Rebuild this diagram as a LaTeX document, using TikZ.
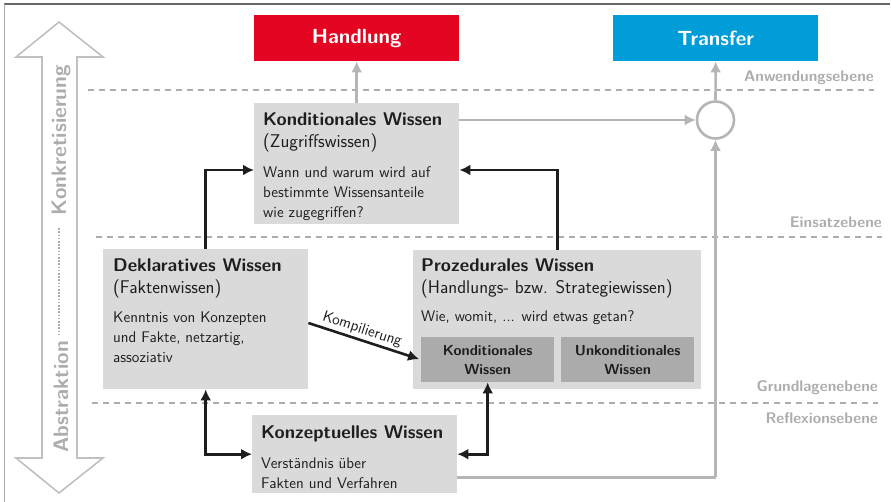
\documentclass[tikz,border=0pt]{standalone}
\usepackage{fontspec}
\renewcommand{\familydefault}{\sfdefault}
\usetikzlibrary{arrows.meta,calc}
\definecolor{boxgray}{HTML}{DADADA}
\definecolor{innergray}{HTML}{ABABAB}
\definecolor{linegray}{HTML}{B5B5B5}
\definecolor{labelgray}{HTML}{ADADAD}
\definecolor{hred}{HTML}{E30522}
\definecolor{tblue}{HTML}{009DD9}
\definecolor{txt}{HTML}{1E1E1E}
\definecolor{framedark}{HTML}{666666}
\definecolor{framelight}{HTML}{AAAAAA}
\newcommand\bodyfont{\fontsize{15.4}{20}\selectfont}
\newcommand\headfont{\fontsize{18.4}{22}\selectfont}
\newcommand\mylines[1]{\begin{tabular}[t]{@{}l@{}}#1\end{tabular}}
\tikzset{
  box/.style={fill=boxgray, inner sep=0pt, anchor=north west},
  innerbox/.style={fill=innergray, inner sep=0pt, anchor=north west, minimum width=133, minimum height=45,
     font=\fontsize{14.6}{19}\selectfont\bfseries, text=txt, align=center},
  topbox/.style={inner sep=0pt, anchor=north west, minimum width=205, minimum height=46,
     font=\fontsize{20.5}{24}\selectfont\bfseries, text=white},
  titletext/.style={inner sep=0pt, anchor=base west, font=\headfont\bfseries, text=txt},
  subtext/.style={inner sep=0pt, anchor=base west, font=\headfont, text=txt},
  desctext/.style={inner sep=0pt, anchor=base west, font=\bodyfont, text=txt},
  lvl/.style={inner sep=0pt, anchor=east, font=\fontsize{15.4}{18}\selectfont\bfseries, text=labelgray},
  levelline/.style={draw=labelgray, line width=1.2pt, dash pattern=on 6pt off 5pt},
  grayarrow/.style={draw=linegray, line width=2.6pt, -{Latex[length=11pt,width=11pt]}},
  grayline/.style={draw=linegray, line width=2.6pt},
  blackarrow/.style={draw=txt, line width=2.6pt, -{Latex[length=11pt,width=11pt]}},
  dblarrow/.style={draw=txt, line width=2.6pt, {Latex[length=11pt,width=11pt]}-{Latex[length=11pt,width=11pt]}},
  bigarrow/.style={draw=linegray!85, line width=1.6pt, fill=white},
  axistext/.style={inner sep=0pt, rotate=90, font=\fontsize{21}{24}\selectfont\bfseries, text=labelgray}
}
\begin{document}
\begin{tikzpicture}[x=1pt,y=-1pt]
\useasboundingbox (0,0) rectangle (891,502);
% frame
\draw[framedark, line width=1.4pt] (4,4) -- (890,4);
\draw[framelight, line width=1.4pt] (4.5,4) -- (4.5,502);

% level lines and labels
\coordinate (l1a) at (88,90);  \coordinate (l1b) at (874,90);
\coordinate (l2a) at (96,237); \coordinate (l2b) at (882,237);
\coordinate (l3a) at (92,403); \coordinate (l3b) at (878,403);
\draw[levelline] (l1a) -- (l1b);
\draw[levelline] (l2a) -- (l2b);
\draw[levelline] (l3a) -- (l3b);
\node[lvl] (lanw) at (874,78) {Anwendungsebene};
\node[lvl] (lein) at (882,222) {Einsatzebene};
\node[lvl] (lgru) at (878,388) {Grundlagenebene};
\node[lvl] (lref) at (878,418) {Reflexionsebene};

% big double arrow
\draw[bigarrow] (59,22) -- (103,57) -- (77,57) -- (77,458) -- (103,458) -- (59,493)
  -- (16,458) -- (42,458) -- (42,57) -- (16,57) -- cycle;
\node[axistext] (konk) at (61,140) {Konkretisierung};
\node[axistext] (abst) at (61,397) {Abstraktion};
\draw[labelgray, line width=2pt, dash pattern=on 1.6pt off 1.6pt] ($(konk.west)+(-2,13)$) -- ($(abst.east)+(-2,-6)$);

% top boxes
\node[topbox, fill=hred] (hand) at (254,15) {Handlung};
\node[topbox, fill=tblue] (trans) at (613,15) {Transfer};
\node[draw=linegray, line width=2.6pt, circle, minimum size=37, inner sep=0pt, fill=white] (circ) at (715.5,120) {};

% Konditionales Wissen
\node[box, minimum width=205, minimum height=121] (kond) at (254,103) {};
\node[titletext] (kondT) at ($(kond.north west)+(9,23)$) {Konditionales Wissen};
\node[subtext] (kondS) at ($(kond.north west)+(9,45)$) {(Zugriffswissen)};
\node[desctext] (kondD) at ($(kond.north west)+(9,75)$) {\mylines{Wann und warum wird auf\\bestimmte Wissensanteile\\wie zugegriffen?}};

% Deklaratives Wissen
\node[box, minimum width=205, minimum height=140] (dekl) at (103,249) {};
\node[titletext] (deklT) at ($(dekl.north west)+(10,23)$) {Deklaratives Wissen};
\node[subtext] (deklS) at ($(dekl.north west)+(10,45)$) {(Faktenwissen)};
\node[desctext] (deklD) at ($(dekl.north west)+(10,74)$) {\mylines{Kenntnis von Konzepten\\und Fakte, netzartig,\\assoziativ}};

% Prozedurales Wissen
\node[box, minimum width=288, minimum height=139] (proz) at (413,250) {};
\node[titletext] (prozT) at ($(proz.north west)+(8,22)$) {Prozedurales Wissen};
\node[subtext] (prozS) at ($(proz.north west)+(8,44)$) {(Handlungs- bzw. Strategiewissen)};
\node[desctext] (prozD) at ($(proz.north west)+(8,72)$) {Wie, womit, ... wird etwas getan?};
\node[innerbox] (ikond) at (421,337) {Konditionales\\Wissen};
\node[innerbox] (iunk) at (561,337) {Unkonditionales\\Wissen};

% Konzeptuelles Wissen
\node[box, minimum width=205, minimum height=78] (konz) at (252,415) {};
\node[titletext] (konzT) at ($(konz.north west)+(9,23)$) {Konzeptuelles Wissen};
\node[desctext] (konzD) at ($(konz.north west)+(9,53)$) {\mylines{Verständnis über\\Fakten und Verfahren}};

% gray connectors
\draw[grayarrow] (kond.north) -- (hand.south);
\draw[grayarrow] (circ.north) -- (trans.south);
\draw[grayarrow] (circ.west -| kond.east) -- (circ.west);
\coordinate (konzout) at ($(konz.south east)+(0,-16)$);
\draw[grayline] (konzout) -- (konzout -| circ.south);
\draw[grayarrow] (konzout -| circ.south) -- (circ.south);

% black connectors
\draw[blackarrow] (dekl.north) |- ($(kond.north west)+(0,67)$);
\draw[blackarrow] (proz.north) |- ($(kond.north east)+(0,67)$);
\draw[blackarrow, shorten >=2pt] ($(dekl.north east)+(0,74)$) -- node[sloped, above, pos=0.45, inner sep=2pt, font=\fontsize{15.4}{17}\selectfont, text=txt] {Kompilierung} (ikond.west);
\draw[dblarrow] (dekl.south) |- (konz.west);
\draw[dblarrow] (konz.east) -| (ikond.south);
\end{tikzpicture}
\end{document}
